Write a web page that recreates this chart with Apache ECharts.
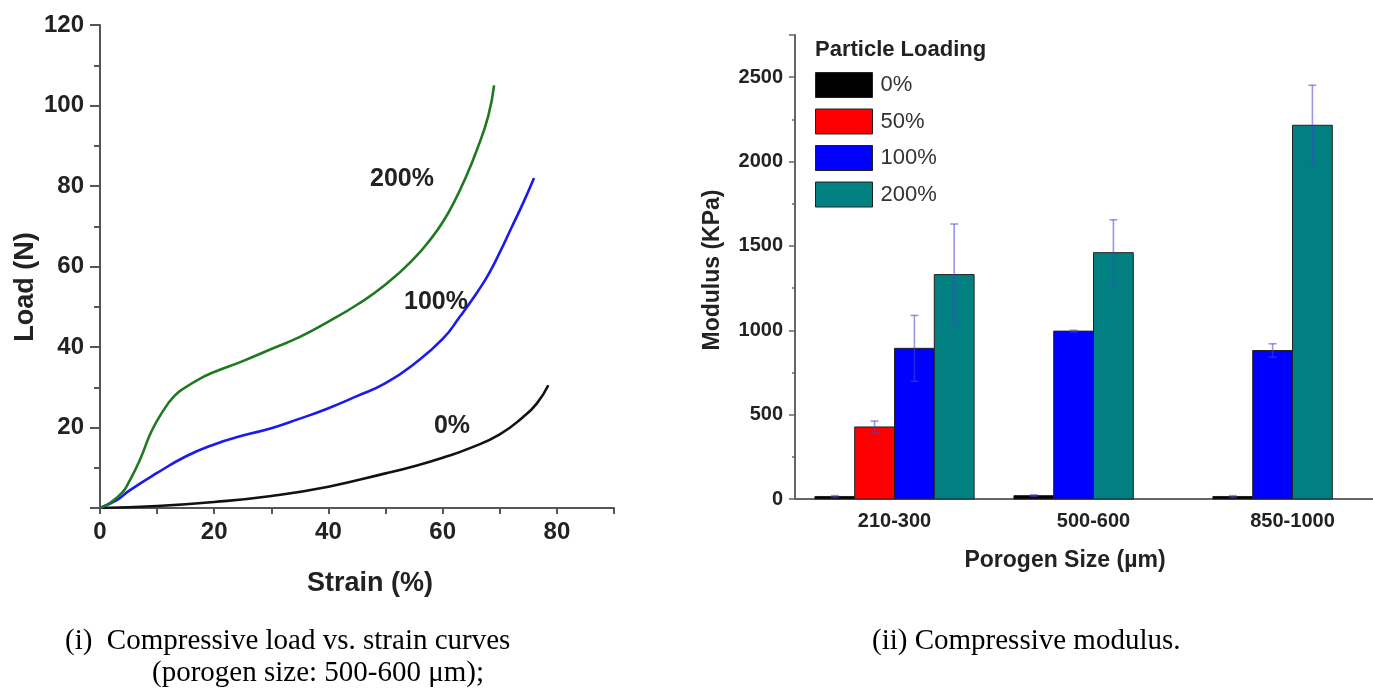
<!DOCTYPE html>
<html>
<head>
<meta charset="utf-8">
<script src="https://cdn.jsdelivr.net/npm/echarts@6/dist/echarts.min.js"></script>
<style>
  html, body { margin: 0; padding: 0; background: #fff; }
  #chart { width: 1373px; height: 690px; }
</style>
</head>
<body>
<div id="chart"></div>
<script>
// (i) load vs strain, porogen size 500-600 um  -> [strain %, load N]
const curve0 = [[0, 0], [10, 0.5], [20, 1.5], [30, 3], [40, 5.3], [50, 8.6], [55, 10.4], [60, 12.5], [65, 15], [70, 18.3], [74, 22.5], [76.5, 26], [78.5, 30.5]]
const curve100 = [[0, 0], [3, 2], [5, 4.2], [10, 8.7], [15, 12.8], [20, 15.8], [25, 18], [30, 19.8], [35, 22.2], [40, 24.8], [45, 27.8], [50, 31], [55, 35.8], [60, 42], [63, 47.5], [66, 53.5], [68, 58], [70, 63.5], [72, 69.5], [74, 75.5], [76, 82]]
const curve200 = [[0, 0], [2, 1.5], [4, 4], [5, 6.3], [7, 12], [9, 19], [11, 24], [13, 27.8], [15, 30], [18, 32.5], [20, 33.8], [25, 36.5], [30, 39.5], [35, 42.5], [40, 46.3], [45, 50.5], [50, 55.5], [55, 62], [58, 67], [60, 71], [62, 76], [64, 82], [66, 89], [68, 97.5], [69, 105]]

// (ii) compressive modulus (KPa) by porogen size
const porogenSizes = ['210-300', '500-600', '850-1000']
const loadings = ['0%', '50%', '100%', '200%']
const modulus0 = [15, 20, 15]
const modulus50 = [427, null, null]
const modulus100 = [893, 995, 880]
const modulus200 = [1330, 1460, 2215]
const err0 = [5, 5, 5]
const err50 = [35, null, null]
const err100 = [195, 5, 40]
const err200 = [300, 195, 237]

const modulusSets = [modulus0, modulus50, modulus100, modulus200]
const errSets = [err0, err50, err100, err200]
const barColors = ['#000000', '#ff0000', '#0000ff', '#008080']
const errColor = 'rgba(70, 70, 210, 0.55)'
const sans = '"Liberation Sans", Arial, sans-serif'
const serif = '"Liberation Serif", "Times New Roman", serif'

// bars of a group are packed from the left, empty loadings take no slot
function barRenderer(k) {
	return function (params, api) {
		const i = api.value(0)
		const v = api.value(1)
		const e = api.value(2)
		let slot = 0
		for (let j = 0; j < k; j++) {
			if (modulusSets[j][i] != null) slot++
		}
		const base = api.coord([i, 0])
		const top = api.coord([i, v])
		const w = api.size([1, 0])[0] * 0.2
		const x0 = base[0] - 2 * w + slot * w
		const cx = x0 + w / 2
		const hi = api.coord([i, v + e])[1]
		const lo = api.coord([i, Math.max(v - e, 0)])[1]
		const cap = 4
		return {
			type: 'group',
			children: [
				{ type: 'rect', shape: { x: x0, y: top[1], width: w, height: base[1] - top[1] }, style: { fill: barColors[k], stroke: '#222', lineWidth: 1 } },
				{ type: 'line', shape: { x1: cx, y1: hi, x2: cx, y2: lo }, style: { stroke: errColor, lineWidth: 1.6 } },
				{ type: 'line', shape: { x1: cx - cap, y1: hi, x2: cx + cap, y2: hi }, style: { stroke: errColor, lineWidth: 1.6 } },
				{ type: 'line', shape: { x1: cx - cap, y1: lo, x2: cx + cap, y2: lo }, style: { stroke: errColor, lineWidth: 1.6 } }
			]
		}
	}
}

const barSeries = loadings.map((name, k) => ({
	name: name,
	type: 'custom',
	xAxisIndex: 1,
	yAxisIndex: 1,
	itemStyle: { color: barColors[k] },
	renderItem: barRenderer(k),
	encode: { x: 0, y: 1 },
	data: modulusSets[k].map((v, i) => v == null ? null : [i, v, errSets[k][i]]).filter(d => d)
}))

const lineSeries = [
	{ data: curve0, color: '#111111' },
	{ data: curve100, color: '#1a1aee' },
	{ data: curve200, color: '#1f7a1f' }
].map(c => ({
	type: 'line',
	xAxisIndex: 0,
	yAxisIndex: 0,
	smooth: 0.5,
	showSymbol: false,
	lineStyle: { color: c.color, width: 2.6 },
	data: c.data
}))

const chart = echarts.init(document.getElementById('chart'))
chart.setOption({
	animation: false,
	backgroundColor: '#fff',
	grid: [
		{ left: 100, top: 25, width: 514, height: 483, outerBoundsMode: 'none' },
		{ left: 795, top: 35, width: 597, height: 464, outerBoundsMode: 'none' }
	],
	xAxis: [
		{
			type: 'value', gridIndex: 0, min: 0, max: 90, interval: 10,
			splitLine: { show: false },
			axisLine: { lineStyle: { color: '#555', width: 2 } },
			axisTick: { length: 6, lineStyle: { color: '#555', width: 2 } },
			axisLabel: {
				margin: 12, color: '#222', fontSize: 24, fontWeight: 'bold', fontFamily: sans,
				formatter: v => (v % 20 === 0 && v < 90) ? String(v) : ''
			}
		},
		{
			type: 'category', gridIndex: 1, data: porogenSizes,
			axisLine: { lineStyle: { color: '#666', width: 2 } },
			axisTick: { length: 4, lineStyle: { color: '#666', width: 1.5 } },
			axisLabel: { margin: 12, color: '#222', fontSize: 20, fontWeight: 'bold', fontFamily: sans }
		}
	],
	yAxis: [
		{
			type: 'value', gridIndex: 0, min: 0, max: 120, interval: 20,
			splitLine: { show: false },
			axisLine: { show: true, lineStyle: { color: '#555', width: 2 } },
			axisTick: { show: true, length: 10, lineStyle: { color: '#555', width: 2 } },
			minorTick: { show: true, splitNumber: 2, length: 6, lineStyle: { color: '#555', width: 2 } },
			axisLabel: { margin: 16, color: '#222', fontSize: 24, fontWeight: 'bold', fontFamily: sans, showMinLabel: false }
		},
		{
			type: 'value', gridIndex: 1, min: 0, max: 2750, interval: 500,
			splitLine: { show: false },
			axisLine: { show: true, lineStyle: { color: '#666', width: 2 } },
			axisTick: { show: true, length: 6, lineStyle: { color: '#666', width: 1.5 } },
			minorTick: { show: true, splitNumber: 2, length: 3, lineStyle: { color: '#666', width: 1.5 } },
			axisLabel: { margin: 12, color: '#222', fontSize: 20, fontWeight: 'bold', fontFamily: sans, showMaxLabel: false, formatter: v => String(v) }
		}
	],
	legend: {
		data: loadings.map((n, k) => ({ name: n, itemStyle: { color: barColors[k], borderColor: '#222', borderWidth: 1 } })),
		orient: 'vertical',
		left: 815,
		top: 72,
		padding: 0,
		icon: 'rect',
		itemWidth: 57,
		itemHeight: 25,
		itemGap: 10.5,
		selectedMode: false,
		textStyle: { fontSize: 22, color: '#333', fontFamily: sans, padding: [0, 0, 0, 3] }
	},
	graphic: [
		{ type: 'text', x: 26, y: 287, rotation: Math.PI / 2, style: { text: 'Load (N)', font: 'bold 27px ' + sans, fill: '#222', textAlign: 'center', textVerticalAlign: 'middle' } },
		{ type: 'text', x: 370, y: 584, style: { text: 'Strain (%)', font: 'bold 27px ' + sans, fill: '#222', textAlign: 'center', textVerticalAlign: 'middle' } },
		{ type: 'text', x: 402, y: 179, style: { text: '200%', font: 'bold 25px ' + sans, fill: '#222', textAlign: 'center', textVerticalAlign: 'middle' } },
		{ type: 'text', x: 436, y: 302, style: { text: '100%', font: 'bold 25px ' + sans, fill: '#222', textAlign: 'center', textVerticalAlign: 'middle' } },
		{ type: 'text', x: 452, y: 426, style: { text: '0%', font: 'bold 25px ' + sans, fill: '#222', textAlign: 'center', textVerticalAlign: 'middle' } },
		{ type: 'text', x: 713, y: 270, rotation: Math.PI / 2, style: { text: 'Modulus (KPa)', font: 'bold 23px ' + sans, fill: '#222', textAlign: 'center', textVerticalAlign: 'middle' } },
		{ type: 'text', x: 1065, y: 561, style: { text: 'Porogen Size (µm)', font: 'bold 23px ' + sans, fill: '#222', textAlign: 'center', textVerticalAlign: 'middle' } },
		{ type: 'text', x: 815, y: 50, style: { text: 'Particle Loading', font: 'bold 22px ' + sans, fill: '#222', textAlign: 'left', textVerticalAlign: 'middle' } },
		{ type: 'text', x: 65, y: 641, style: { text: '(i)  Compressive load vs. strain curves', font: '29px ' + serif, fill: '#000', textAlign: 'left', textVerticalAlign: 'middle' } },
		{ type: 'text', x: 152, y: 673, style: { text: '(porogen size: 500-600 μm);', font: '29px ' + serif, fill: '#000', textAlign: 'left', textVerticalAlign: 'middle' } },
		{ type: 'text', x: 872, y: 641, style: { text: '(ii) Compressive modulus.', font: '29px ' + serif, fill: '#000', textAlign: 'left', textVerticalAlign: 'middle' } }
	],
	series: lineSeries.concat(barSeries)
})
</script>
</body>
</html>
